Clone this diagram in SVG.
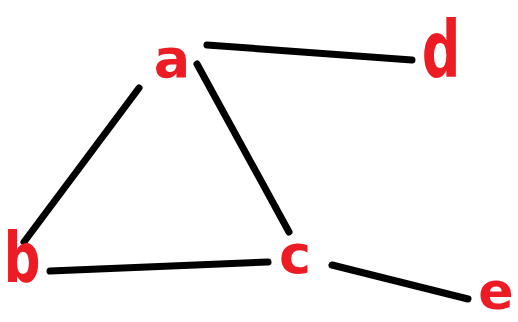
<svg xmlns="http://www.w3.org/2000/svg" width="518" height="322" viewBox="0 0 518 322">
<style>
.lbl{font-family:"DejaVu Sans","Liberation Sans",sans-serif;font-weight:bold;font-size:54px;fill:#ED1C24;text-anchor:middle}
.edge{stroke:#000;stroke-width:7;stroke-linecap:round;fill:none}
</style>
<rect width="518" height="322" fill="#fff"/>
<g id="connectors">
<line class="edge" x1="207" y1="45" x2="412" y2="60"/>
<line class="edge" x1="139" y1="88" x2="24" y2="242"/>
<line class="edge" x1="197" y1="64" x2="289" y2="232"/>
<line class="edge" x1="50" y1="271" x2="268" y2="262"/>
<line class="edge" x1="332" y1="265" x2="468" y2="299"/>
</g>
<g id="node-a"><text class="lbl" x="172" y="77">a</text></g>
<g id="node-b"><text class="lbl" transform="translate(22,282) scale(0.95,1.3)">b</text></g>
<g id="node-c"><text class="lbl" x="295" y="273">c</text></g>
<g id="node-d"><text class="lbl" transform="translate(441,77) scale(1,1.45)">d</text></g>
<g id="node-e"><text class="lbl" x="496" y="309" style="font-size:52px">e</text></g>
</svg>
